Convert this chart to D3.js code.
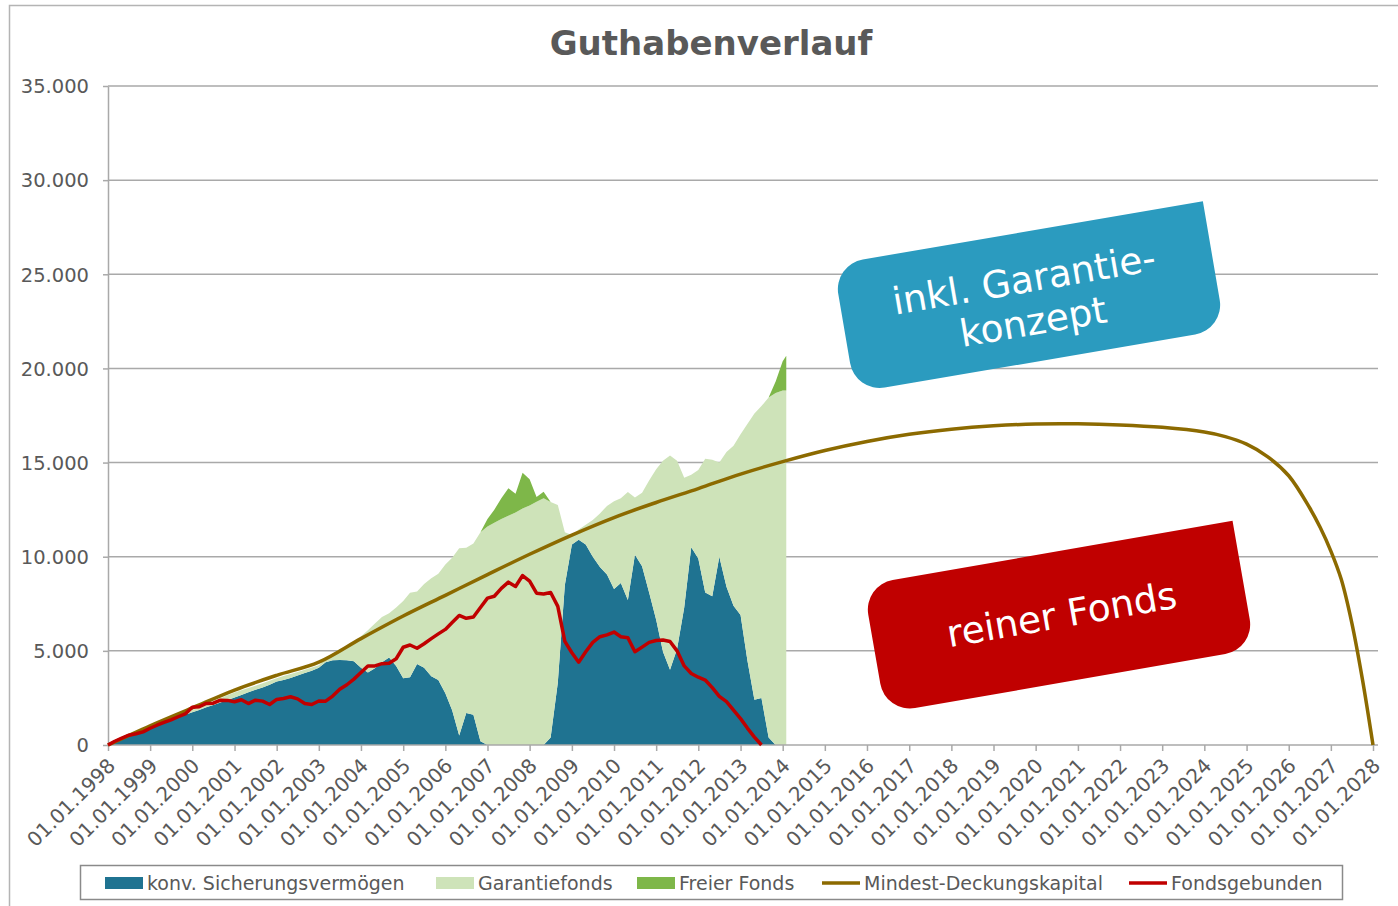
<!DOCTYPE html>
<html>
<head>
<meta charset="utf-8">
<script src="https://cdn.jsdelivr.net/npm/d3@7"></script>
<style>
body { margin:0; background:#fff; }
svg text { font-family: "DejaVu Sans", Verdana, sans-serif; fill:#595959; }
</style>
</head>
<body>
<div id="chart"></div>
<script>
// --- data (every 2 months) ---
var areaDates = [
  "1998-01","1998-03","1998-05","1998-07","1998-09","1998-11",
  "1999-01","1999-03","1999-05","1999-07","1999-09","1999-11",
  "2000-01","2000-03","2000-05","2000-07","2000-09","2000-11",
  "2001-01","2001-03","2001-05","2001-07","2001-09","2001-11",
  "2002-01","2002-03","2002-05","2002-07","2002-09","2002-11",
  "2003-01","2003-03","2003-05","2003-07","2003-09","2003-11",
  "2004-01","2004-03","2004-05","2004-07","2004-09","2004-11",
  "2005-01","2005-03","2005-05","2005-07","2005-09","2005-11",
  "2006-01","2006-03","2006-05","2006-07","2006-09","2006-11",
  "2007-01","2007-03","2007-05","2007-07","2007-09","2007-11",
  "2008-01","2008-03","2008-05","2008-07","2008-09","2008-11",
  "2009-01","2009-03","2009-05","2009-07","2009-09","2009-11",
  "2010-01","2010-03","2010-05","2010-07","2010-09","2010-11",
  "2011-01","2011-03","2011-05","2011-07","2011-09","2011-11",
  "2012-01","2012-03","2012-05","2012-07","2012-09","2012-11",
  "2013-01","2013-03","2013-05","2013-07","2013-09","2013-11",
  "2014-01","2014-02"
];

var sicherung = [
  0,150,300,450,600,750,
  890,1040,1180,1320,1460,1600,
  1740,1860,2000,2130,2260,2390,
  2520,2650,2800,2930,3060,3200,
  3370,3450,3560,3690,3820,3950,
  4100,4400,4500,4520,4500,4450,
  4100,3850,4070,4400,4650,4200,
  3550,3600,4300,4100,3650,3450,
  2750,1850,500,1700,1600,200,
  0,0,0,0,0,0,
  0,0,0,400,3300,8500,
  10650,10900,10650,10000,9460,9050,
  8280,8600,7700,10100,9500,8100,
  6650,4950,4000,5100,7300,10500,
  9900,8100,7900,10000,8400,7400,
  6900,4500,2400,2500,400,0,
  0,0
];

var garantie = [
  0,0,10,20,30,40,
  50,50,70,80,100,110,
  120,150,170,190,220,250,
  270,260,230,220,220,210,
  180,210,210,190,170,160,
  140,200,350,580,750,1000,
  1680,2250,2380,2400,2350,3100,
  4100,4480,3850,4450,5200,5650,
  6830,8100,9950,8780,9100,11100,
  11600,11800,12000,12180,12350,12560,
  12720,12920,13100,12500,9450,2800,
  500,550,1050,1950,2840,3650,
  4670,4500,5740,3050,3900,5950,
  8000,10150,11380,10000,6900,3850,
  4700,7100,7250,5000,7160,8500,
  9600,12550,15200,15500,18050,18700,
  18830,18830
];

var freier = [
  0,0,0,0,0,0,
  0,0,0,0,0,0,
  0,0,0,0,0,0,
  0,0,0,0,0,0,
  0,0,0,0,0,0,
  0,0,0,0,0,0,
  0,0,0,0,0,0,
  0,0,0,0,0,0,
  0,0,0,0,0,0,
  400,700,1100,1450,1000,1900,
  1400,250,350,0,0,0,
  0,0,0,0,0,0,
  0,0,0,0,0,0,
  0,0,0,0,0,0,
  0,0,0,0,0,0,
  0,0,0,0,0,600,
  1550,1850
];

var fondsgebunden = [
  0,200,370,520,600,700,
  890,1050,1200,1340,1500,1650,
  2000,2030,2210,2220,2380,2370,
  2300,2400,2200,2380,2330,2150,
  2420,2470,2560,2450,2200,2150,
  2340,2330,2600,2960,3200,3500,
  3850,4200,4200,4320,4340,4580,
  5190,5310,5140,5380,5650,5900,
  6140,6500,6880,6730,6800,7300,
  7800,7900,8320,8650,8420,9000,
  8700,8060,8020,8100,7360,5500,
  4900,4400,4950,5450,5750,5850,
  6000,5750,5700,4950,5200,5450,
  5550,5580,5500,5000,4200,3800,
  3600,3450,3050,2580,2300,1850,
  1400,900,420,0,null,null,
  null,null
];

var mdkDates = [
  "1998-01","1999-01","2000-01","2001-01","2002-01","2003-01","2004-01","2005-01",
  "2006-01","2007-01","2008-01","2009-01","2010-01","2011-01","2012-01","2013-01",
  "2014-01","2015-01","2016-01","2017-01","2018-01","2019-01","2020-01","2021-01",
  "2022-01","2023-01","2024-01","2024-07","2025-01","2025-07","2026-01","2026-07",
  "2026-10","2027-01","2027-04","2027-07","2027-10","2028-01"
];
var mdk = [
  0,1020,1970,2920,3700,4400,5650,6850,
  7950,9050,10130,11150,12080,12880,13620,14390,
  15050,15640,16120,16500,16770,16950,17050,17060,
  17000,16870,16620,16380,15980,15320,14300,12600,
  11550,10300,8800,6500,3500,0
];

var yTicks = [0,5000,10000,15000,20000,25000,30000,35000];

var seriesNames = ["konv. Sicherungsvermögen","Garantiefonds","Freier Fonds","Mindest-Deckungskapital","Fondsgebunden"];
var colors = {sicherung:"#1f7391", garantie:"#cee3b9", freier:"#7eb749", mdk:"#8c6a00", fonds:"#c00000"};

// --- layout ---
var W = 1398, H = 906;
var margin = {top:86, left:108, right:1373, bottom:745};
var plotEnd = 1378;

var parse = d3.timeParse("%Y-%m");
var de = d3.formatLocale({decimal:",", thousands:".", grouping:[3], currency:["","€"]});

var x = d3.scaleTime()
    .domain([new Date(1998,0,1), new Date(2028,0,1)])
    .range([margin.left, margin.right]);
var y = d3.scaleLinear()
    .domain([0, 35000])
    .range([margin.bottom, margin.top]);

var svg = d3.select("#chart").append("svg")
    .attr("width", W)
    .attr("height", H);

svg.append("rect").attr("width", W).attr("height", H).attr("fill", "#fff");
// chart frame
svg.append("rect")
    .attr("x", 9.5).attr("y", 5.5)
    .attr("width", 1400).attr("height", 920)
    .attr("fill", "none").attr("stroke", "#b4b4b4").attr("stroke-width", 1.5);

svg.append("text")
    .attr("x", 711).attr("y", 55)
    .attr("text-anchor", "middle")
    .style("font-size", "34px").style("font-weight", "bold")
    .text("Guthabenverlauf");

// gridlines
svg.append("g").selectAll("line").data(yTicks.slice(1)).enter().append("line")
    .attr("x1", margin.left).attr("x2", plotEnd)
    .attr("y1", d => y(d)).attr("y2", d => y(d))
    .attr("stroke", "#a9a9a9").attr("stroke-width", 1.5);

// stacked areas
var rows = areaDates.map(function(d, i){
  return {date: parse(d), sicherung: sicherung[i], garantie: garantie[i], freier: freier[i]};
});
var stack = d3.stack().keys(["sicherung","garantie","freier"]);
var layers = stack(rows);

var area = d3.area()
    .x(d => x(d.data.date))
    .y0(d => y(d[0]))
    .y1(d => y(d[1]));

svg.append("g").selectAll("path").data(layers).enter().append("path")
    .attr("d", area)
    .attr("fill", d => colors[d.key]);

// axes
var xAxis = svg.append("g")
    .attr("transform", "translate(0," + margin.bottom + ")")
    .call(d3.axisBottom(x).ticks(d3.timeYear.every(1)).tickSize(6).tickSizeOuter(0).tickFormat(""));
xAxis.select(".domain").attr("d", "M" + margin.left + ",0H" + plotEnd);
xAxis.selectAll("path, line").attr("stroke", "#a9a9a9").attr("stroke-width", 1.5);

xAxis.selectAll(".tick").append("text")
    .attr("transform", "translate(8,22) rotate(-45)")
    .attr("text-anchor", "end")
    .style("font-size", "20px")
    .attr("fill", "#595959")
    .text(d => d3.timeFormat("%d.%m.%Y")(d));

var yAxis = svg.append("g")
    .attr("transform", "translate(" + margin.left + ",0)")
    .call(d3.axisLeft(y).tickValues(yTicks).tickSize(5).tickSizeOuter(0).tickFormat(""));
yAxis.selectAll("path, line").attr("stroke", "#a9a9a9").attr("stroke-width", 1.5);
yAxis.selectAll(".tick").append("text")
    .attr("x", -19).attr("dy", "0.35em")
    .attr("text-anchor", "end")
    .style("font-size", "19.5px")
    .attr("fill", "#595959")
    .text(d => de.format(",")(d));

// lines
var line = d3.line()
    .defined(d => d.v != null)
    .x(d => x(d.date))
    .y(d => y(d.v));

svg.append("path")
    .datum(mdkDates.map((d, i) => ({date: parse(d), v: mdk[i]})))
    .attr("d", line.curve(d3.curveCatmullRom.alpha(0.5)))
    .attr("fill", "none").attr("stroke", colors.mdk).attr("stroke-width", 3.5);

svg.append("path")
    .datum(areaDates.map((d, i) => ({date: parse(d), v: fondsgebunden[i]})))
    .attr("d", line.curve(d3.curveLinear))
    .attr("fill", "none").attr("stroke", colors.fonds).attr("stroke-width", 3.5)
    .attr("stroke-linejoin", "round");

// callout boxes
function calloutPath(w, h, r){
  var x0 = -w/2, x1 = w/2, y0 = -h/2, y1 = h/2;
  return "M" + (x0 + r) + "," + y0 +
    "L" + x1 + "," + y0 +
    "L" + x1 + "," + (y1 - r) +
    "A" + r + "," + r + " 0 0 1 " + (x1 - r) + "," + y1 +
    "L" + (x0 + r) + "," + y1 +
    "A" + r + "," + r + " 0 0 1 " + x0 + "," + (y1 - r) +
    "L" + x0 + "," + (y0 + r) +
    "A" + r + "," + r + " 0 0 1 " + (x0 + r) + "," + y0 + "Z";
}

var callouts = [
  {cx:1029, cy:297, rot:-9.7, fill:"#2b9bbf", lines:[["inkl. Garantie-",-2,-5],["konzept",0,38]]},
  {cx:1059, cy:617, rot:-9.9, fill:"#c00000", lines:[["reiner Fonds",3,11]]}
];

var co = svg.append("g").selectAll("g").data(callouts).enter().append("g")
    .attr("transform", d => "translate(" + d.cx + "," + d.cy + ") rotate(" + d.rot + ")");
co.append("path")
    .attr("d", calloutPath(375, 130, 30))
    .attr("fill", d => d.fill);
co.each(function(d){
  d3.select(this).selectAll("text").data(d.lines).enter().append("text")
      .attr("x", l => l[1]).attr("y", l => l[2])
      .attr("text-anchor", "middle")
      .style("font-size", "37.5px")
      .style("fill", "#fff")
      .text(l => l[0]);
});

// legend
var legend = svg.append("g");
legend.append("rect")
    .attr("x", 80.5).attr("y", 865.5).attr("width", 1262).attr("height", 34)
    .attr("fill", "#fff").attr("stroke", "#8a8a8a").attr("stroke-width", 1.5);

var legendItems = [
  {name: seriesNames[0], x:105, type:"rect", color:colors.sicherung},
  {name: seriesNames[1], x:436, type:"rect", color:colors.garantie},
  {name: seriesNames[2], x:637, type:"rect", color:colors.freier},
  {name: seriesNames[3], x:822, type:"line", color:colors.mdk},
  {name: seriesNames[4], x:1129, type:"line", color:colors.fonds}
];
var li = legend.selectAll("g.item").data(legendItems).enter().append("g")
    .attr("transform", d => "translate(" + d.x + ",883)");
li.filter(d => d.type == "rect").append("rect")
    .attr("x", 0).attr("y", -6).attr("width", 38).attr("height", 12)
    .attr("fill", d => d.color);
li.filter(d => d.type == "line").append("line")
    .attr("x1", 0).attr("x2", 38).attr("y1", 0).attr("y2", 0)
    .attr("stroke", d => d.color).attr("stroke-width", 3.5);
li.append("text")
    .attr("x", 42).attr("dy", "0.35em")
    .style("font-size", "19px")
    .text(d => d.name);
</script>
</body>
</html>
